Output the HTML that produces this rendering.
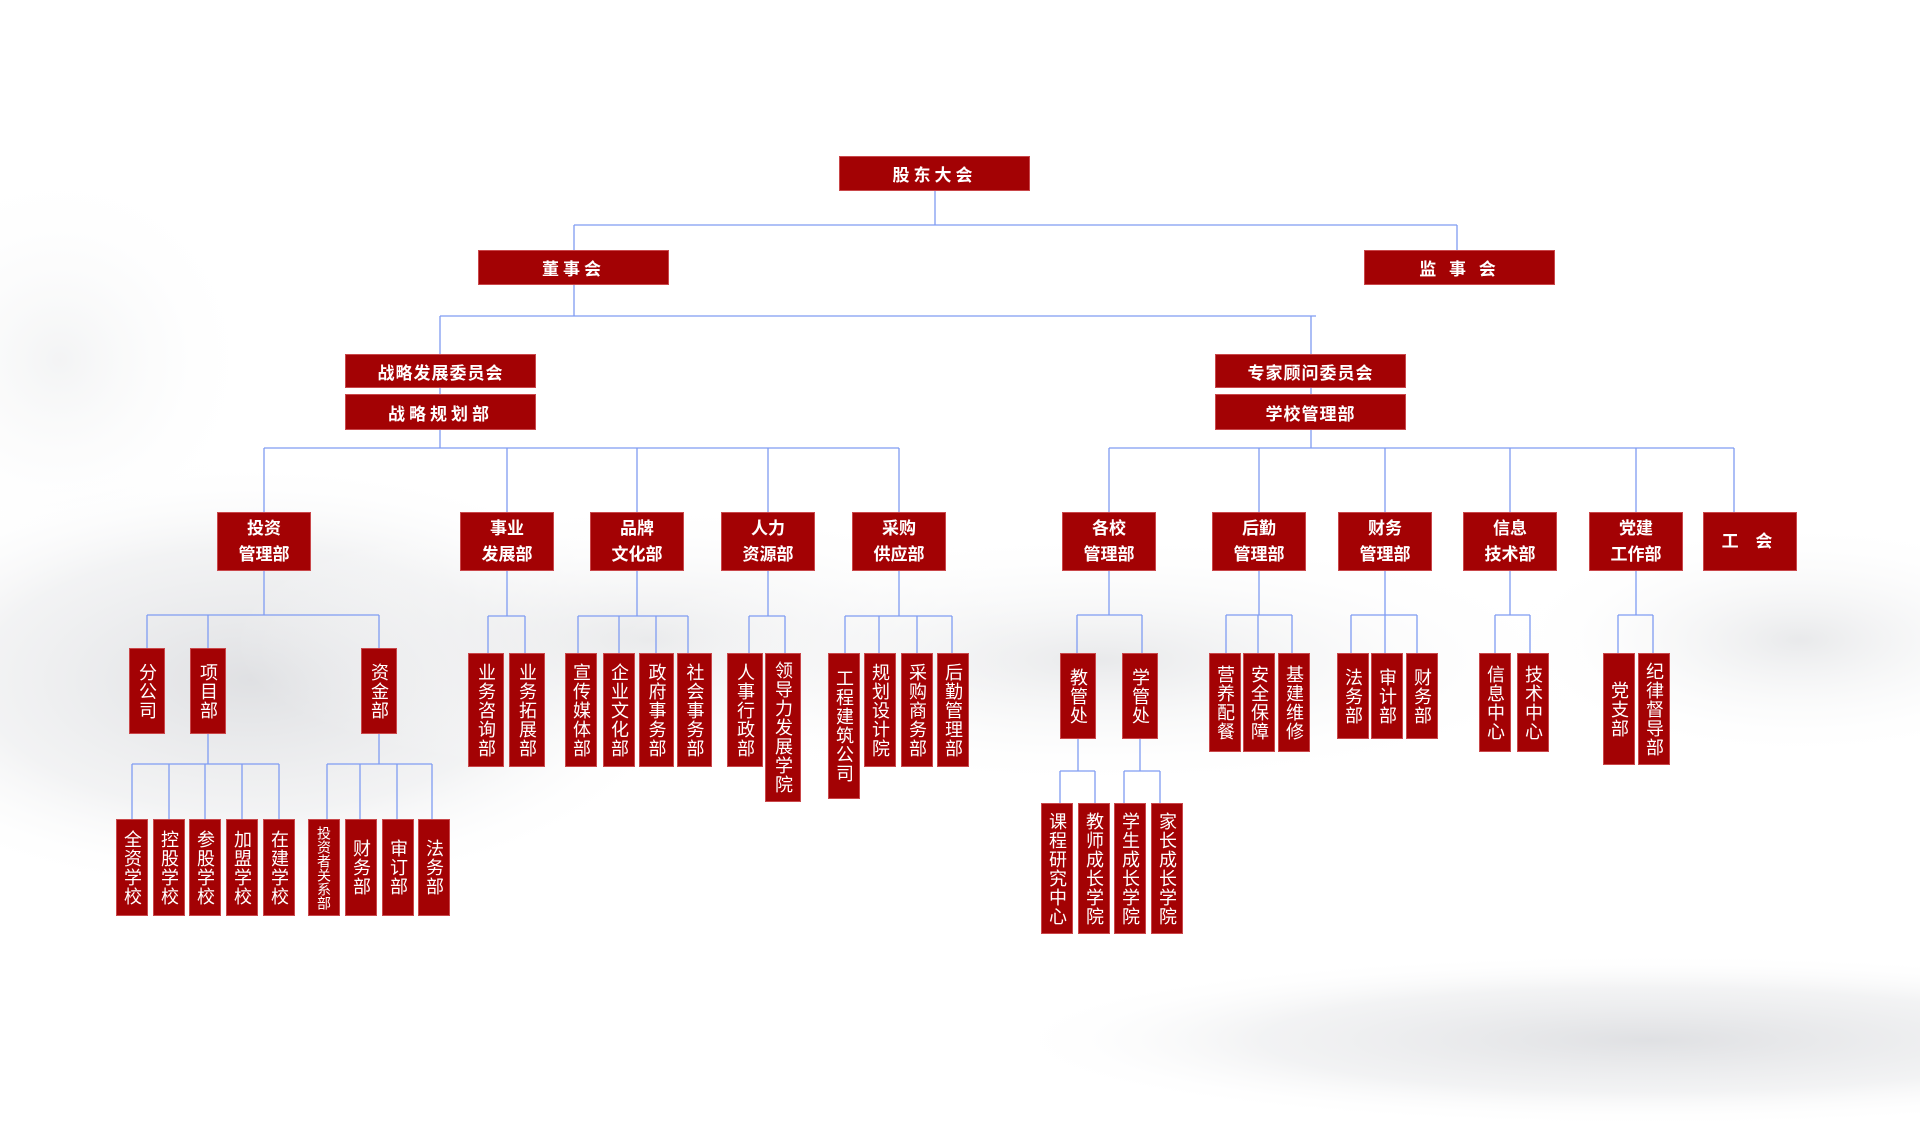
<!DOCTYPE html>
<html><head><meta charset="utf-8"><style>
html,body{margin:0;padding:0;overflow:hidden}
body{width:1920px;height:1127px;position:relative;overflow:hidden;background:#fff;font-family:"Liberation Sans","Noto Sans CJK SC",sans-serif}
.b{position:absolute;background:#a30204;border:1px solid #c9474a;box-sizing:border-box;color:#fff;display:flex;align-items:center;justify-content:center;text-align:center}
.h{font-size:17px;letter-spacing:4px;font-weight:bold}
.m{font-size:17px;line-height:26px;font-weight:bold}
.v span{writing-mode:vertical-rl;font-size:18px;line-height:1;letter-spacing:1px}
.s span{font-size:14px;letter-spacing:0}
svg{position:absolute;left:0;top:0;overflow:hidden;display:block}
</style></head><body>
<svg width="1920" height="1127" viewBox="0 0 1920 1127">
<defs>
<radialGradient id="r1"><stop offset="0" stop-color="#dcdde0" stop-opacity="0.9"/><stop offset="0.6" stop-color="#e6e7e9" stop-opacity="0.5"/><stop offset="1" stop-color="#ffffff" stop-opacity="0"/></radialGradient>
<radialGradient id="r2"><stop offset="0" stop-color="#e3e4e6" stop-opacity="0.8"/><stop offset="1" stop-color="#ffffff" stop-opacity="0"/></radialGradient>
<radialGradient id="r3"><stop offset="0" stop-color="#eeeff0" stop-opacity="0.7"/><stop offset="1" stop-color="#ffffff" stop-opacity="0"/></radialGradient>
</defs>
<ellipse cx="250" cy="680" rx="450" ry="220" fill="url(#r1)"/>
<ellipse cx="650" cy="640" rx="420" ry="140" fill="url(#r2)"/>
<ellipse cx="1100" cy="660" rx="500" ry="130" fill="url(#r2)"/>
<ellipse cx="1650" cy="1040" rx="650" ry="87" fill="url(#r1)"/>
<ellipse cx="1800" cy="640" rx="300" ry="120" fill="url(#r2)"/>
<ellipse cx="60" cy="360" rx="200" ry="200" fill="url(#r3)"/>
<g stroke="#7f9cf2" stroke-width="1.3" fill="none">
<path d="M935 191V225M574 225H1457M574 225V250M1457 225V250"/>
<path d="M574 285V316M440 316H1316M440 316V354M1311 316V354M440 388V394M1311 388V394"/>
<path d="M440 430V448M1311 430V448M264 448H899M1109 448H1734"/>
<path d="M264 448V512M507 448V512M637 448V512M768 448V512M899 448V512M1109 448V512M1259 448V512M1385 448V512M1510 448V512M1636 448V512M1734 448V512"/>
<path d="M264 571V615M147 615H379M147 615V648M208 615V648M379 615V648"/>
<path d="M208 734V764M132 764H279M132 764V819M169 764V819M205 764V819M242 764V819M279 764V819"/>
<path d="M379 734V764M327 764H432M327 764V819M360 764V819M397 764V819M432 764V819"/>
<path d="M507 571V616M488 616H525M488 616V653M525 616V653"/>
<path d="M637 571V616M578 616H688M578 616V653M619 616V653M656 616V653M688 616V653"/>
<path d="M768 571V616M749 616H785M749 616V653M785 616V653"/>
<path d="M899 571V616M845 616H952M845 616V653M879 616V653M917 616V653M952 616V653"/>
<path d="M1109 571V615M1077 615H1142M1077 615V653M1142 615V653"/>
<path d="M1078 739V771M1060 771H1095M1060 771V803M1095 771V803M1140 739V771M1124 771H1160M1124 771V803M1160 771V803"/>
<path d="M1259 571V615M1226 615H1292M1226 615V653M1258 615V653M1292 615V653"/>
<path d="M1385 571V615M1351 615H1417M1351 615V653M1385 615V653M1417 615V653"/>
<path d="M1510 571V615M1495 615H1530M1495 615V653M1530 615V653"/>
<path d="M1636 571V615M1618 615H1653M1618 615V653M1653 615V653"/>
</g>
</svg>

<div class="b h" style="left:839px;top:156px;width:191px;height:35px">股东大会</div>
<div class="b h" style="left:478px;top:250px;width:191px;height:35px">董事会</div>
<div class="b h" style="left:1364px;top:250px;width:191px;height:35px">监 事 会</div>
<div class="b h" style="left:345px;top:354px;width:191px;height:34px;letter-spacing:1px">战略发展委员会</div>
<div class="b h" style="left:345px;top:394px;width:191px;height:36px">战略规划部</div>
<div class="b h" style="left:1215px;top:354px;width:191px;height:34px;letter-spacing:1px">专家顾问委员会</div>
<div class="b h" style="left:1215px;top:394px;width:191px;height:36px;letter-spacing:1px">学校管理部</div>

<div class="b m" style="left:217px;top:512px;width:94px;height:59px">投资<br>管理部</div>
<div class="b m" style="left:460px;top:512px;width:94px;height:59px">事业<br>发展部</div>
<div class="b m" style="left:590px;top:512px;width:94px;height:59px">品牌<br>文化部</div>
<div class="b m" style="left:721px;top:512px;width:94px;height:59px">人力<br>资源部</div>
<div class="b m" style="left:852px;top:512px;width:94px;height:59px">采购<br>供应部</div>
<div class="b m" style="left:1062px;top:512px;width:94px;height:59px">各校<br>管理部</div>
<div class="b m" style="left:1212px;top:512px;width:94px;height:59px">后勤<br>管理部</div>
<div class="b m" style="left:1338px;top:512px;width:94px;height:59px">财务<br>管理部</div>
<div class="b m" style="left:1463px;top:512px;width:94px;height:59px">信息<br>技术部</div>
<div class="b m" style="left:1589px;top:512px;width:94px;height:59px">党建<br>工作部</div>
<div class="b m" style="left:1703px;top:512px;width:94px;height:59px;letter-spacing:6px">工 会</div>

<div class="b v" style="left:129px;top:648px;width:36px;height:86px"><span>分公司</span></div>
<div class="b v" style="left:190px;top:648px;width:36px;height:86px"><span>项目部</span></div>
<div class="b v" style="left:361px;top:648px;width:36px;height:86px"><span>资金部</span></div>

<div class="b v" style="left:116px;top:819px;width:32px;height:97px"><span>全资学校</span></div>
<div class="b v" style="left:153px;top:819px;width:32px;height:97px"><span>控股学校</span></div>
<div class="b v" style="left:189px;top:819px;width:32px;height:97px"><span>参股学校</span></div>
<div class="b v" style="left:226px;top:819px;width:32px;height:97px"><span>加盟学校</span></div>
<div class="b v" style="left:263px;top:819px;width:32px;height:97px"><span>在建学校</span></div>
<div class="b v s" style="left:308px;top:819px;width:32px;height:97px"><span>投资者关系部</span></div>
<div class="b v" style="left:345px;top:819px;width:32px;height:97px"><span>财务部</span></div>
<div class="b v" style="left:382px;top:819px;width:32px;height:97px"><span>审订部</span></div>
<div class="b v" style="left:418px;top:819px;width:32px;height:97px"><span>法务部</span></div>

<div class="b v" style="left:468px;top:653px;width:36px;height:114px"><span>业务咨询部</span></div>
<div class="b v" style="left:509px;top:653px;width:36px;height:114px"><span>业务拓展部</span></div>
<div class="b v" style="left:565px;top:653px;width:32px;height:114px"><span>宣传媒体部</span></div>
<div class="b v" style="left:603px;top:653px;width:32px;height:114px"><span>企业文化部</span></div>
<div class="b v" style="left:639px;top:653px;width:35px;height:114px"><span>政府事务部</span></div>
<div class="b v" style="left:677px;top:653px;width:35px;height:114px"><span>社会事务部</span></div>
<div class="b v" style="left:727px;top:653px;width:36px;height:114px"><span>人事行政部</span></div>
<div class="b v" style="left:765px;top:653px;width:36px;height:149px"><span>领导力发展学院</span></div>
<div class="b v" style="left:828px;top:653px;width:32px;height:146px"><span>工程建筑公司</span></div>
<div class="b v" style="left:864px;top:653px;width:32px;height:114px"><span>规划设计院</span></div>
<div class="b v" style="left:901px;top:653px;width:32px;height:114px"><span>采购商务部</span></div>
<div class="b v" style="left:937px;top:653px;width:32px;height:114px"><span>后勤管理部</span></div>

<div class="b v" style="left:1060px;top:653px;width:36px;height:86px"><span>教管处</span></div>
<div class="b v" style="left:1122px;top:653px;width:36px;height:86px"><span>学管处</span></div>
<div class="b v" style="left:1041px;top:803px;width:32px;height:131px"><span>课程研究中心</span></div>
<div class="b v" style="left:1078px;top:803px;width:32px;height:131px"><span>教师成长学院</span></div>
<div class="b v" style="left:1114px;top:803px;width:32px;height:131px"><span>学生成长学院</span></div>
<div class="b v" style="left:1151px;top:803px;width:32px;height:131px"><span>家长成长学院</span></div>

<div class="b v" style="left:1209px;top:653px;width:32px;height:99px"><span>营养配餐</span></div>
<div class="b v" style="left:1243px;top:653px;width:32px;height:99px"><span>安全保障</span></div>
<div class="b v" style="left:1278px;top:653px;width:32px;height:99px"><span>基建维修</span></div>
<div class="b v" style="left:1337px;top:653px;width:32px;height:86px"><span>法务部</span></div>
<div class="b v" style="left:1371px;top:653px;width:32px;height:86px"><span>审计部</span></div>
<div class="b v" style="left:1406px;top:653px;width:32px;height:86px"><span>财务部</span></div>
<div class="b v" style="left:1479px;top:653px;width:32px;height:99px"><span>信息中心</span></div>
<div class="b v" style="left:1517px;top:653px;width:32px;height:99px"><span>技术中心</span></div>
<div class="b v" style="left:1603px;top:653px;width:32px;height:112px"><span>党支部</span></div>
<div class="b v" style="left:1638px;top:653px;width:32px;height:112px"><span>纪律督导部</span></div>
</body></html>
